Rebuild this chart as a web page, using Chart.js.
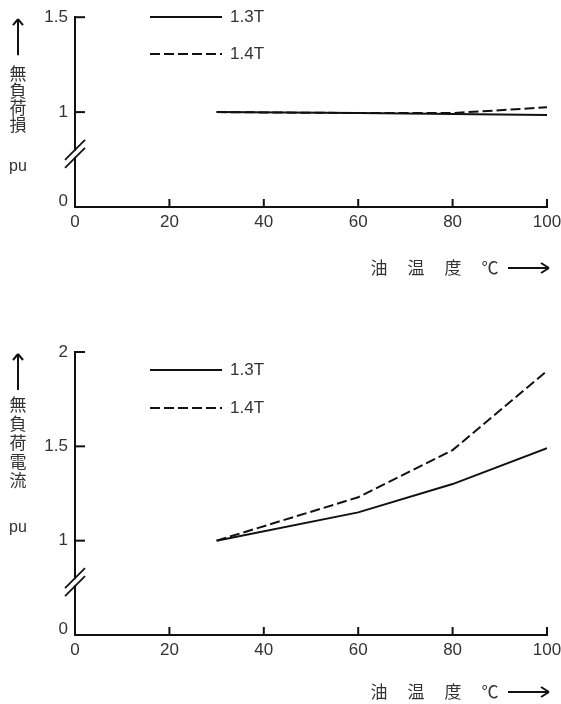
<!DOCTYPE html>
<html>
<head>
<meta charset="utf-8">
<script src="https://cdn.jsdelivr.net/npm/chart.js@4.4.0/dist/chart.umd.min.js"></script>
<style>
html, body { margin: 0; padding: 0; background: #fff; }
.wrap { position: absolute; left: 0; width: 561px; }
#top { top: 0; height: 330px; }
#bottom { top: 330px; height: 374px; }
</style>
</head>
<body>
<div class="wrap" id="top"><canvas id="lossChart" width="561" height="330"></canvas></div>
<div class="wrap" id="bottom"><canvas id="currentChart" width="561" height="374"></canvas></div>
<script>
// oil temperature (deg C) where the curves were read
const temps = [30, 60, 80, 100];

// no-load loss, pu
const loss13 = [1.0, 0.995, 0.99, 0.985];
const loss14 = [1.0, 0.995, 0.995, 1.025];

// no-load current, pu
const cur13 = [1.0, 1.15, 1.30, 1.49];
const cur14 = [1.0, 1.23, 1.48, 1.90];

const seriesLabels = ['1.3T', '1.4T'];

// x axis ticks
const xTicks = [0, 20, 40, 60, 80, 100];

// broken y axis: the lowest tick stands for 0
const lossYTicks = [0.5, 1, 1.5];
const lossYLabels = ['0', '1', '1.5'];
const curYTicks = [0.5, 1, 1.5, 2];
const curYLabels = ['0', '1', '1.5', '2'];
const yBreak = 0.78;

const lossTitle = ['無', '負', '荷', '損'];
const curTitle = ['無', '負', '荷', '電', '流'];
const xTitle = ['油', '温', '度', '℃'];

const INK = '#111';
const TEXT = '#333';
const NUM_FONT = '"Liberation Sans", Arial, sans-serif';
const CJK_FONT = '"Noto Sans CJK JP", "Noto Sans CJK SC", sans-serif';

function pts(xs, ys) {
    return xs.map((x, i) => ({ x: x, y: ys[i] }));
}

function line(ctx, x1, y1, x2, y2) {
    ctx.beginPath();
    ctx.moveTo(x1, y1);
    ctx.lineTo(x2, y2);
    ctx.stroke();
}

// inward ticks, axis break, legend and axis titles
const decor = {
    id: 'decor',
    afterDraw(chart, args, opts) {
        const ctx = chart.ctx;
        const xs = chart.scales.x, ys = chart.scales.y;
        const area = chart.chartArea;
        ctx.save();
        ctx.strokeStyle = INK;
        ctx.lineWidth = 2;

        ys.ticks.forEach(t => {
            if (t.value <= ys.min) return;
            const py = ys.getPixelForValue(t.value);
            line(ctx, area.left - 1, py, area.left + 10, py);
        });
        xs.ticks.forEach(t => {
            if (t.value <= xs.min) return;
            const px = xs.getPixelForValue(t.value);
            line(ctx, px, area.bottom + 1, px, area.bottom - 8);
        });

        // the y zero label sits a little above and left of the corner
        ctx.font = '17px ' + NUM_FONT;
        ctx.fillStyle = TEXT;
        ctx.textAlign = 'right';
        ctx.textBaseline = 'middle';
        ctx.fillText(opts.yZero, area.left - 7, ys.getPixelForValue(ys.min) - 6);

        // axis break
        const by = ys.getPixelForValue(yBreak);
        ctx.fillStyle = '#fff';
        ctx.fillRect(area.left - 3, by - 3, 6, 6);
        ctx.lineWidth = 1.8;
        line(ctx, area.left - 10, by - 4 + 10, area.left + 10, by - 4 - 10);
        line(ctx, area.left - 10, by + 4 + 10, area.left + 10, by + 4 - 10);

        // legend
        ctx.fillStyle = TEXT;
        ctx.textAlign = 'left';
        chart.data.datasets.forEach((ds, i) => {
            const ly = opts.legendY[i];
            ctx.setLineDash(ds.borderDash || []);
            ctx.lineWidth = 2;
            line(ctx, 150, ly, 222, ly);
            ctx.setLineDash([]);
            ctx.fillText(ds.label, 230, ly);
        });

        // y title: arrow, vertical text, unit
        ctx.lineWidth = 2;
        const ax = 18, tip = area.top + 1;
        line(ctx, ax, tip + 1, ax, tip + 37);
        line(ctx, ax - 5, tip + 7, ax, tip + 1);
        line(ctx, ax + 5, tip + 7, ax, tip + 1);
        ctx.font = '17px ' + CJK_FONT;
        ctx.textAlign = 'center';
        opts.yTitle.forEach((ch, i) => {
            ctx.fillText(ch, ax, opts.yTitleY + i * opts.yTitleStep);
        });
        ctx.font = '16px ' + NUM_FONT;
        ctx.fillText('pu', ax, opts.unitY);

        // x title
        const tx = area.bottom + opts.xTitleDy;
        ctx.font = '17px ' + CJK_FONT;
        xTitle.forEach((ch, i) => {
            ctx.fillText(ch, 379 + i * 37, tx);
        });
        line(ctx, 508, tx, 549, tx);
        line(ctx, 541, tx - 5, 549, tx);
        line(ctx, 541, tx + 5, 549, tx);

        ctx.restore();
    }
};

function makeChart(id, s13, s14, yTicks, yLabels, yMax, h, top, bottom, decorOpts) {
    const ctx = document.getElementById(id).getContext('2d');
    decorOpts.yZero = yLabels[0];
    return new Chart(ctx, {
        type: 'line',
        data: {
            datasets: [
                {
                    label: seriesLabels[0],
                    data: pts(temps, s13),
                    borderColor: INK,
                    borderWidth: 2,
                    pointRadius: 0,
                    tension: 0,
                    fill: false
                },
                {
                    label: seriesLabels[1],
                    data: pts(temps, s14),
                    borderColor: INK,
                    borderWidth: 2,
                    borderDash: [10, 4],
                    pointRadius: 0,
                    tension: 0,
                    fill: false
                }
            ]
        },
        options: {
            responsive: false,
            animation: false,
            layout: { padding: { top: top, right: 14, left: 0, bottom: 0 } },
            plugins: {
                legend: { display: false },
                tooltip: { enabled: false },
                decor: decorOpts
            },
            scales: {
                x: {
                    type: 'linear',
                    min: 0,
                    max: 100,
                    afterBuildTicks: s => { s.ticks = xTicks.map(v => ({ value: v })); },
                    afterFit: s => {
                        s.height = h - bottom;
                        s.paddingRight = 0;
                        s.paddingLeft = 0;
                    },
                    grid: { drawOnChartArea: false, drawTicks: false },
                    border: { color: INK, width: 2 },
                    ticks: {
                        color: TEXT,
                        padding: 5,
                        maxRotation: 0,
                        font: { family: NUM_FONT, size: 17 },
                        callback: v => String(v)
                    }
                },
                y: {
                    type: 'linear',
                    min: 0.5,
                    max: yMax,
                    afterBuildTicks: s => { s.ticks = yTicks.map(v => ({ value: v })); },
                    afterFit: s => { s.width = 75; },
                    grid: { drawOnChartArea: false, drawTicks: false },
                    border: { color: INK, width: 2 },
                    ticks: {
                        color: TEXT,
                        padding: 7,
                        font: { family: NUM_FONT, size: 17 },
                        // the zero label is drawn by the plugin, offset from the corner
                        callback: v => v === yTicks[0] ? '' : yLabels[yTicks.indexOf(v)]
                    }
                }
            }
        },
        plugins: [decor]
    });
}

document.addEventListener('DOMContentLoaded', function() {
    makeChart('lossChart', loss13, loss14, lossYTicks, lossYLabels, 1.5, 330, 17, 207, {
        legendY: [17, 54],
        yTitle: lossTitle,
        yTitleY: 74,
        yTitleStep: 17,
        unitY: 167,
        xTitleDy: 61
    });
    makeChart('currentChart', cur13, cur14, curYTicks, curYLabels, 2, 374, 22, 305, {
        legendY: [40, 78],
        yTitle: curTitle,
        yTitleY: 75,
        yTitleStep: 19,
        unitY: 198,
        xTitleDy: 57
    });
});
</script>
</body>
</html>
